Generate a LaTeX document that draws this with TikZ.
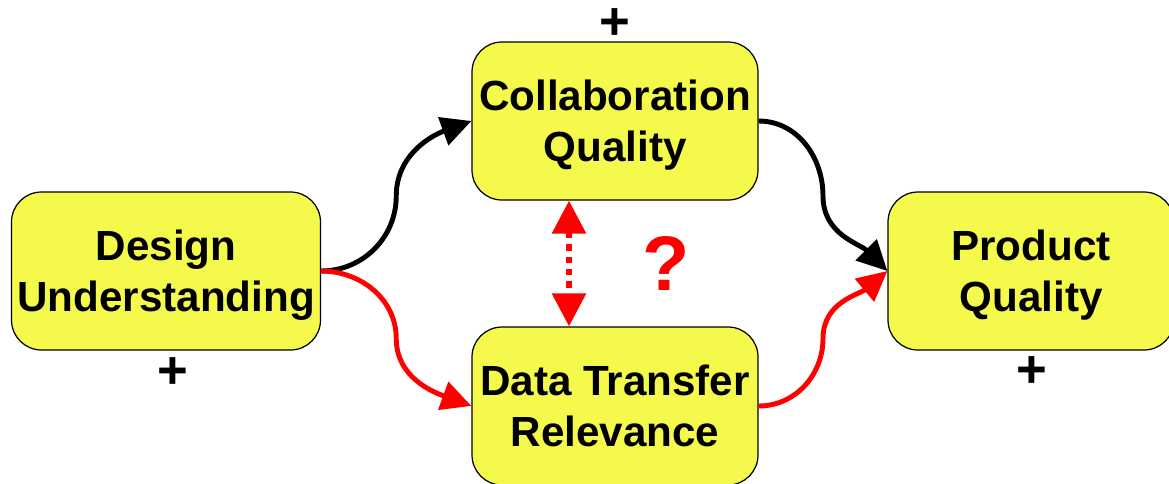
\documentclass[tikz,border=0pt]{standalone}
\usepackage{fontspec}
\setmainfont{Liberation Sans}
\usepackage{tikz}
\usetikzlibrary{calc, arrows.meta}
\definecolor{boxyellow}{RGB}{244,249,76}
\tikzset{
	myfactor/.style={rectangle, fill=boxyellow, draw=black, line width=0.7pt, rounded corners=6mm,
				minimum height=3.16cm, minimum width=5.72cm, inner sep=0.1cm, text depth=0pt,
				text centered, align=center, font=\bfseries\fontsize{24}{29}\selectfont
				},
	mysign/.style={inner sep=0mm, font=\bfseries\fontsize{30}{30}\selectfont
				},
	myarrow/.style={-{Triangle[length=0.6cm, width=0.58cm]}, black, line width=2.8pt
				},
	myredarrow/.style={myarrow, red
				},
	myquestion/.style={{Triangle[length=0.66cm, width=0.66cm]}-{Triangle[length=0.66cm, width=0.66cm]},
				red, line width=3.4pt, dash pattern=on 3.6pt off 3.4pt
				}
	}

\begin{document}
\begin{tikzpicture}

				\useasboundingbox (0,0) rectangle (23.38,-9.66);

				\node[myfactor, minimum width=6.18cm] (design) at (3.32,-5.42) {Design\\Understanding};
				
				\node[myfactor] (collab) at ($(design) + (8.98, 3.0)$) {Collaboration\\Quality};
				
				\node[myfactor] (transfer) at ($(design) + (8.98, -2.70)$) {Data Transfer\\Relevance};
				
				\node[myfactor] (product) at ($(design) + (17.30, 0)$) {Product\\Quality};
				
				\node[mysign] (designsign) at ($(design.south) + (0.14, -0.44)$) {+};
				\node[mysign] (collabsign) at ($(collab.north) + (0, 0.34)$) {+};
				\node[mysign] (productsign) at ($(product.south) + (0.02, -0.42)$) {+};
				
				\node[text=red, font=\bfseries\fontsize{44}{44}\selectfont, inner sep=0mm] (question) at 
				($(collab.south)!0.5!(transfer.north) + (1.02, 0)$) {?};

				\draw[myarrow] (design.east) to[out=0, in=-90] ($(design.east)!0.5!(collab.west)$)
				 to[out=90, in=200] (collab.west);
				
				\draw[myredarrow] (design.east) to[out=0, in=90] ($(design.east)!0.5!(transfer.west)$)
				 to[out=-90, in=160] (transfer.west);
				
				\draw[myarrow] (collab.east) to[out=0, in=90] ($(collab.east)!0.5!(product.west)$)
				 to[out=-90, in=135] (product.west);
				
				\draw[myredarrow] (transfer.east) to[out=0, in=-90] ($(transfer.east)!0.5!(product.west)$)
				 to[out=90, in=220] (product.west);
				
				\draw[myquestion] ([xshift=-0.92cm]collab.south) -- ([xshift=-0.92cm]transfer.north);

\end{tikzpicture}
\end{document}
